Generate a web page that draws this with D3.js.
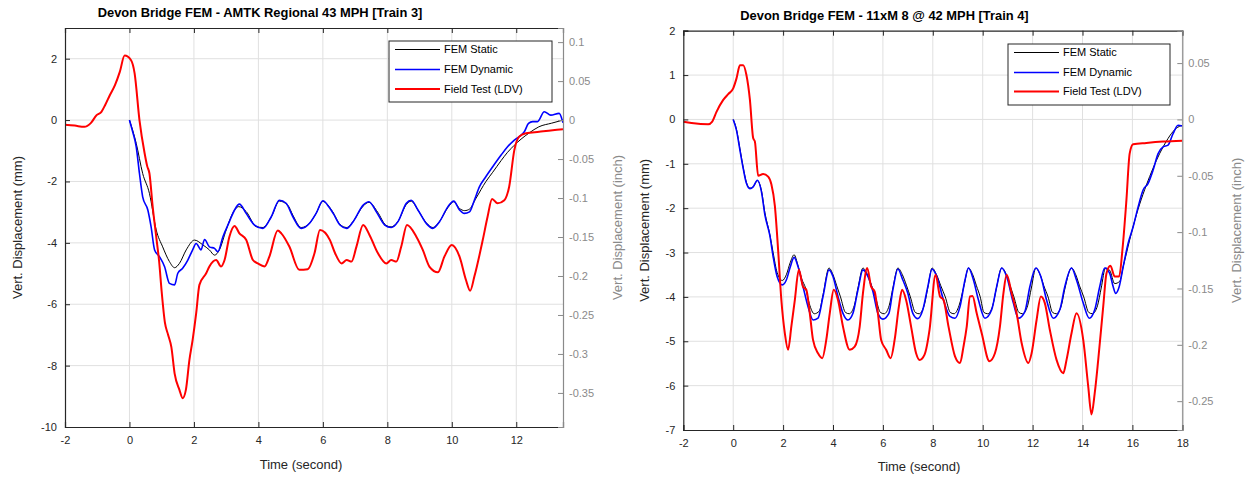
<!DOCTYPE html>
<html>
<head>
<meta charset="utf-8">
<script src="https://cdnjs.cloudflare.com/ajax/libs/d3/7.8.5/d3.min.js"></script>
<style>
  html, body { margin: 0; padding: 0; background: #fff; }
  svg { display: block; font-family: "Liberation Sans", Arial, sans-serif; }
</style>
</head>
<body>
<svg id="chart" width="1250" height="478"></svg>
<script>
// ---------------- DATA ----------------
// Chart 1: AMTK Regional 43 MPH [Train 3]
const t3Title = "Devon Bridge FEM - AMTK Regional 43 MPH [Train 3]";
const t3XTicks = [-2, 0, 2, 4, 6, 8, 10, 12];
const t3YTicksMM = [-10, -8, -6, -4, -2, 0, 2];
const t3YTicksIn = [-0.35, -0.3, -0.25, -0.2, -0.15, -0.1, -0.05, 0, 0.05, 0.1];
const t3XDomain = [-2, 13.45];
const t3YDomain = [-10, 3];

const t3FieldX = [-2.0,-1.7,-1.4,-1.2,-1.02,-0.87,-0.75,-0.61,-0.45,-0.3,-0.15,0.05,0.16,0.31,0.47,0.55,0.62,0.72,0.83,0.92,1.0,1.1,1.2,1.3,1.4,1.55,1.65,1.75,1.86,1.96,2.07,2.17,2.38,2.48,2.69,2.84,2.95,3.1,3.26,3.41,3.62,3.83,3.98,4.19,4.34,4.6,4.71,4.96,5.27,5.53,5.74,5.91,6.22,6.38,6.58,6.74,6.89,7.04,7.25,7.45,7.71,7.97,8.12,8.28,8.43,8.61,8.9,9.1,9.31,9.57,9.77,10.0,10.24,10.44,10.57,10.7,10.96,11.11,11.25,11.42,11.63,11.78,11.94,12.09,12.3,12.71,13.13,13.45];
const t3FieldY = [-0.15,-0.18,-0.22,-0.1,0.16,0.27,0.5,0.81,1.14,1.57,2.1,1.95,1.52,0,-1.08,-1.5,-1.74,-2.82,-3.8,-4.6,-5.6,-6.6,-7.0,-7.4,-8.25,-8.79,-9.06,-8.79,-7.81,-7.16,-6.29,-5.37,-4.99,-4.77,-4.56,-4.77,-4.56,-3.8,-3.45,-3.69,-3.9,-4.56,-4.67,-4.77,-4.45,-3.6,-3.69,-4.12,-4.88,-4.86,-4.34,-3.58,-3.91,-4.34,-4.67,-4.56,-4.61,-4.13,-3.42,-3.75,-4.34,-4.67,-4.56,-4.61,-4.13,-3.42,-3.8,-4.23,-4.78,-4.96,-4.45,-4.07,-4.45,-5.21,-5.56,-5.1,-3.91,-3.15,-2.57,-2.71,-2.61,-2.17,-0.98,-0.54,-0.43,-0.38,-0.33,-0.3];

const t3DynX = [0,0.1,0.21,0.31,0.41,0.57,0.67,0.78,0.93,1.09,1.24,1.4,1.5,1.65,1.81,1.96,2.07,2.22,2.33,2.48,2.64,2.74,2.9,3.1,3.26,3.41,3.62,3.88,4.14,4.4,4.65,4.86,5.07,5.33,5.58,5.79,6.0,6.2,6.32,6.53,6.74,6.94,7.25,7.43,7.66,7.92,8.12,8.33,8.59,8.74,8.95,9.21,9.41,9.62,9.88,10.06,10.24,10.39,10.55,10.7,10.86,11.06,11.27,11.53,11.73,11.94,12.15,12.25,12.38,12.51,12.66,12.87,13.07,13.33,13.45];
const t3DynY = [0,-0.38,-0.87,-1.74,-2.5,-2.93,-3.47,-4.23,-4.45,-4.78,-5.32,-5.37,-4.99,-4.83,-4.56,-4.23,-4.02,-4.23,-3.89,-4.13,-4.18,-4.29,-3.8,-3.31,-2.93,-2.74,-3.04,-3.42,-3.53,-3.15,-2.61,-2.71,-3.15,-3.53,-3.37,-3.04,-2.63,-2.85,-3.04,-3.42,-3.53,-3.31,-2.77,-2.66,-2.99,-3.42,-3.5,-3.31,-2.71,-2.61,-2.93,-3.37,-3.53,-3.31,-2.82,-2.64,-2.93,-3.04,-2.99,-2.61,-2.17,-1.84,-1.52,-1.14,-0.87,-0.65,-0.49,-0.38,-0.11,-0.05,-0.05,0.27,0.16,0.22,-0.09];

const t3StaticX = [0,0.21,0.41,0.62,0.83,1.03,1.24,1.4,1.55,1.76,2.02,2.28,2.48,2.64,2.79,3.0,3.2,3.39,3.62,3.93,4.14,4.4,4.65,4.91,5.07,5.33,5.58,5.79,6.0,6.3,6.53,6.74,6.94,7.25,7.43,7.7,7.95,8.12,8.33,8.59,8.74,8.95,9.21,9.41,9.62,9.88,10.06,10.24,10.4,10.55,10.75,11.06,11.27,11.53,11.73,11.94,12.15,12.4,12.7,13.1,13.45];
const t3StaticY = [0,-0.76,-1.74,-2.39,-3.58,-4.13,-4.61,-4.81,-4.67,-4.23,-3.91,-4.07,-4.23,-4.4,-4.23,-3.58,-3.04,-2.82,-2.98,-3.47,-3.5,-3.15,-2.64,-2.77,-3.1,-3.5,-3.37,-3.04,-2.65,-2.98,-3.4,-3.5,-3.3,-2.8,-2.68,-3.0,-3.42,-3.48,-3.3,-2.75,-2.64,-2.93,-3.35,-3.5,-3.3,-2.85,-2.66,-2.88,-2.95,-2.9,-2.55,-2.0,-1.7,-1.32,-1.05,-0.82,-0.62,-0.42,-0.22,-0.1,0];

// Chart 2: 11xM 8 @ 42 MPH [Train 4]
const t4Title = "Devon Bridge FEM - 11xM 8 @ 42 MPH [Train 4]";
const t4XTicks = [-2, 0, 2, 4, 6, 8, 10, 12, 14, 16, 18];
const t4YTicksMM = [-7, -6, -5, -4, -3, -2, -1, 0, 1, 2];
const t4YTicksIn = [-0.25, -0.2, -0.15, -0.1, -0.05, 0, 0.05];
const t4XDomain = [-2, 18];
const t4YDomain = [-7, 2];

const t4FieldX = [-2,-1.67,-1.0,-0.84,-0.67,-0.4,-0.2,0,0.13,0.27,0.4,0.53,0.67,0.8,0.87,1.0,1.2,1.4,1.53,1.67,1.8,1.93,2.07,2.2,2.33,2.47,2.63,2.8,2.93,3.07,3.2,3.4,3.57,3.73,3.87,4.03,4.2,4.4,4.67,4.87,5.07,5.2,5.37,5.53,5.67,5.8,5.93,6.13,6.31,6.47,6.64,6.77,6.93,7.13,7.33,7.47,7.67,7.87,8.11,8.29,8.43,8.63,8.89,9.09,9.23,9.36,9.49,9.59,9.76,9.96,10.27,10.49,10.69,10.83,10.96,11.16,11.36,11.56,11.83,11.96,12.16,12.33,12.49,12.69,12.96,13.23,13.36,13.56,13.76,14.03,14.23,14.36,14.49,14.63,14.83,14.96,15.12,15.29,15.47,15.6,15.76,15.89,16.03,16.56,17.23,18];
const t4FieldY = [-0.05,-0.08,-0.11,-0.05,0.17,0.44,0.57,0.7,0.92,1.22,1.22,1.0,0.44,-0.42,-0.5,-1.27,-1.23,-1.29,-1.46,-1.95,-2.94,-4.07,-4.82,-5.19,-4.67,-4.07,-3.39,-3.77,-3.84,-4.37,-4.97,-5.27,-5.38,-4.97,-4.37,-3.84,-4.07,-4.67,-5.19,-5.12,-4.67,-3.92,-3.35,-3.77,-3.88,-4.37,-4.97,-5.19,-5.38,-4.97,-4.22,-3.84,-4.07,-4.67,-5.27,-5.42,-5.3,-4.74,-3.5,-3.99,-4.07,-4.67,-5.34,-5.49,-5.12,-4.67,-3.99,-3.98,-4.37,-4.82,-5.45,-5.27,-4.67,-3.92,-3.5,-3.92,-4.37,-5.04,-5.49,-5.27,-4.52,-3.99,-4.14,-4.74,-5.42,-5.72,-5.42,-4.82,-4.37,-4.97,-6.02,-6.65,-6.17,-5.42,-4.22,-3.47,-3.3,-3.54,-3.54,-2.94,-1.82,-0.77,-0.56,-0.53,-0.5,-0.48];

const t4DynX = [0,0.13,0.27,0.4,0.53,0.67,0.8,0.97,1.13,1.27,1.47,1.6,1.76,1.97,2.13,2.29,2.44,2.6,2.8,3.0,3.2,3.4,3.6,3.84,4.0,4.2,4.4,4.6,4.8,5.0,5.2,5.4,5.6,5.8,6.0,6.24,6.4,6.6,6.8,7.0,7.2,7.4,7.6,7.8,7.97,8.16,8.43,8.69,8.89,9.09,9.29,9.43,9.63,9.83,10.09,10.36,10.56,10.76,10.96,11.23,11.43,11.69,11.89,12.13,12.33,12.56,12.83,13.09,13.29,13.56,13.76,14.03,14.27,14.49,14.69,14.89,15.09,15.23,15.33,15.47,15.63,15.83,16.03,16.23,16.43,16.63,16.83,17.03,17.23,17.43,17.63,17.83,18];
const t4DynY = [0,-0.24,-0.69,-1.1,-1.44,-1.56,-1.52,-1.37,-1.62,-2.15,-2.62,-3.09,-3.54,-3.73,-3.62,-3.32,-3.11,-3.32,-3.77,-4.22,-4.52,-4.48,-3.99,-3.39,-3.54,-3.99,-4.37,-4.52,-4.37,-3.84,-3.39,-3.54,-3.88,-4.37,-4.5,-4.37,-3.84,-3.37,-3.62,-3.92,-4.37,-4.49,-4.29,-3.77,-3.37,-3.54,-4.07,-4.44,-4.48,-4.22,-3.62,-3.35,-3.62,-4.07,-4.48,-4.29,-3.77,-3.35,-3.54,-4.14,-4.48,-4.33,-3.77,-3.35,-3.54,-4.07,-4.48,-4.29,-3.77,-3.35,-3.62,-4.14,-4.48,-4.29,-3.77,-3.35,-3.47,-3.77,-3.92,-3.77,-3.32,-2.79,-2.42,-1.97,-1.59,-1.44,-1.14,-0.77,-0.62,-0.58,-0.32,-0.13,-0.15];

const t4StaticX = [0,0.13,0.27,0.4,0.53,0.67,0.8,0.97,1.13,1.27,1.47,1.6,1.76,1.97,2.13,2.29,2.44,2.6,2.75,2.9,3.05,3.25,3.45,3.6,3.84,4.0,4.15,4.3,4.5,4.65,4.85,5.0,5.2,5.38,5.55,5.7,5.9,6.05,6.25,6.4,6.6,6.78,6.95,7.1,7.3,7.45,7.65,7.8,7.97,8.15,8.32,8.5,8.7,8.85,9.05,9.25,9.43,9.6,9.75,9.9,10.05,10.2,10.4,10.55,10.76,10.95,11.1,11.25,11.45,11.6,11.8,11.95,12.13,12.3,12.45,12.62,12.8,12.95,13.15,13.3,13.56,13.73,13.88,14.05,14.25,14.4,14.6,14.75,14.92,15.09,15.29,15.49,15.63,16.16,16.69,17.23,17.76,18];
const t4StaticY = [0,-0.22,-0.66,-1.08,-1.42,-1.55,-1.52,-1.38,-1.6,-2.1,-2.6,-3.0,-3.45,-3.63,-3.5,-3.22,-3.05,-3.3,-3.6,-3.8,-4.15,-4.38,-4.32,-3.95,-3.35,-3.5,-3.75,-4.0,-4.35,-4.38,-4.2,-3.8,-3.35,-3.5,-3.75,-4.0,-4.35,-4.38,-4.2,-3.8,-3.35,-3.5,-3.75,-4.0,-4.35,-4.38,-4.2,-3.8,-3.35,-3.5,-3.75,-4.0,-4.35,-4.38,-4.2,-3.75,-3.35,-3.5,-3.75,-4.0,-4.35,-4.38,-4.2,-3.8,-3.35,-3.5,-3.75,-4.0,-4.35,-4.38,-4.2,-3.8,-3.35,-3.5,-3.75,-4.0,-4.35,-4.38,-4.2,-3.8,-3.35,-3.5,-3.75,-4.0,-4.35,-4.38,-4.2,-3.8,-3.35,-3.4,-3.7,-3.65,-3.32,-2.15,-1.29,-0.62,-0.2,-0.13];

const legendLabels = ["FEM Static", "FEM Dynamic", "Field Test (LDV)"];
const seriesColors = ["#000000", "#0000ff", "#ff0000"];
const seriesWidths = [1, 1.6, 2];

// ---------------- DRAW ----------------
const svg = d3.select("#chart");
const zip = (xs, ys) => xs.map((x, i) => [x, ys[i]]);

function drawChart(o) {
  const g = svg.append("g");
  const x = d3.scaleLinear().domain(o.xDomain).range([o.left, o.right]);
  const y = d3.scaleLinear().domain(o.yDomain).range([o.bottom, o.top]);
  const y2 = d3.scaleLinear().domain(o.yDomain.map(v => v / 25.4)).range([o.bottom, o.top]);
  const dark = "#262626", grey = "#8a8a8a", grid = "#e0e0e0";

  // grid
  g.append("g").selectAll("line").data(o.xTicks.filter(t => t > o.xDomain[0])).join("line")
    .attr("x1", d => x(d)).attr("x2", d => x(d)).attr("y1", o.top).attr("y2", o.bottom)
    .attr("stroke", grid).attr("stroke-width", 1);
  g.append("g").selectAll("line").data(o.yTicks.filter(t => t > o.yDomain[0] && t < o.yDomain[1])).join("line")
    .attr("x1", o.left).attr("x2", o.right).attr("y1", d => y(d)).attr("y2", d => y(d))
    .attr("stroke", grid).attr("stroke-width", 1);

  // lines
  const clipId = "clip" + o.id;
  svg.append("clipPath").attr("id", clipId).append("rect")
    .attr("x", o.left).attr("y", o.top).attr("width", o.right - o.left).attr("height", o.bottom - o.top);
  const line = d3.line().x(d => x(d[0])).y(d => y(d[1])).curve(d3.curveMonotoneX);
  const lg = g.append("g").attr("clip-path", `url(#${clipId})`);
  o.series.forEach((s, i) => {
    lg.append("path").datum(s).attr("d", line).attr("fill", "none")
      .attr("stroke", seriesColors[i]).attr("stroke-width", seriesWidths[i])
      .attr("stroke-linejoin", "round");
  });

  // axes
  const ax = g.append("g").attr("transform", `translate(0,${o.bottom})`)
    .call(d3.axisBottom(x).tickValues(o.xTicks).tickSize(-5).tickPadding(9).tickFormat(d3.format("d")));
  const axTop = g.append("g").attr("transform", `translate(0,${o.top})`)
    .call(d3.axisTop(x).tickValues(o.xTicks).tickSize(-5).tickFormat(""));
  const ay = g.append("g").attr("transform", `translate(${o.left},0)`)
    .call(d3.axisLeft(y).tickValues(o.yTicks).tickSize(-5).tickPadding(8).tickFormat(d3.format("d")));
  const ay2 = g.append("g").attr("transform", `translate(${o.right},0)`)
    .call(d3.axisRight(y2).tickValues(o.yTicksIn).tickSize(-5).tickPadding(6).tickFormat(d => d === 0 ? "0" : String(+d.toFixed(2))));
  [ax, axTop, ay].forEach(a => {
    a.select(".domain").attr("stroke", dark).attr("stroke-width", 1.2);
    a.selectAll(".tick line").attr("stroke", dark);
    a.selectAll("text").attr("fill", dark).style("font-size", "11px").style("font-family", "Liberation Sans, Arial, sans-serif");
  });
  ay2.select(".domain").attr("stroke", grey).attr("stroke-width", 1.2);
  ay2.selectAll(".tick line").attr("stroke", grey);
  ay2.selectAll("text").attr("fill", grey).style("font-size", "11px").style("font-family", "Liberation Sans, Arial, sans-serif");
  ax.selectAll(".tick text").attr("dy", "0.71em");
  g.selectAll(".tick text").text(function() { return d3.select(this).text().replace("\u2212", "-"); });

  // titles / labels
  g.append("text").attr("x", o.titleX).attr("y", o.titleY).attr("text-anchor", "middle")
    .attr("font-weight", "bold").attr("font-size", "12.9px").attr("fill", "#000").text(o.title);
  g.append("text").attr("x", o.xLabelX).attr("y", o.xLabelY).attr("text-anchor", "middle")
    .attr("font-size", "13px").attr("fill", dark).text("Time (second)");
  g.append("text").attr("transform", `translate(${o.yLabelX},${(o.top + o.bottom) / 2}) rotate(-90)`)
    .attr("text-anchor", "middle").attr("font-size", "13px").attr("fill", dark).text("Vert. Displacement (mm)");
  g.append("text").attr("transform", `translate(${o.y2LabelX},${(o.top + o.bottom) / 2}) rotate(-90)`)
    .attr("text-anchor", "middle").attr("font-size", "13px").attr("fill", grey).text("Vert. Displacement (inch)");

  // legend
  const L = o.legend;
  const leg = g.append("g");
  leg.append("rect").attr("x", L.x).attr("y", L.y).attr("width", L.w).attr("height", L.h)
    .attr("fill", "#fff").attr("stroke", dark).attr("stroke-width", 1);
  legendLabels.forEach((lab, i) => {
    const yy = L.y + L.rowY[i];
    leg.append("line").attr("x1", L.x + 6).attr("x2", L.x + 51).attr("y1", yy).attr("y2", yy)
      .attr("stroke", seriesColors[i]).attr("stroke-width", seriesWidths[i]);
    leg.append("text").attr("x", L.x + 55).attr("y", yy).attr("dy", "0.35em")
      .attr("font-size", "11px").attr("fill", "#000").text(lab);
  });
}

drawChart({
  id: 1, left: 65, right: 563, top: 28, bottom: 427,
  xDomain: t3XDomain, yDomain: t3YDomain,
  xTicks: t3XTicks, yTicks: t3YTicksMM, yTicksIn: t3YTicksIn,
  series: [zip(t3StaticX, t3StaticY), zip(t3DynX, t3DynY), zip(t3FieldX, t3FieldY)],
  title: t3Title, titleX: 260, titleY: 17,
  xLabelX: 301, xLabelY: 469, yLabelX: 22, y2LabelX: 622,
  legend: { x: 389, y: 41, w: 163, h: 61, rowY: [8.5, 28.5, 48] }
});

drawChart({
  id: 2, left: 683.3, right: 1182.3, top: 30.7, bottom: 430,
  xDomain: t4XDomain, yDomain: t4YDomain,
  xTicks: t4XTicks, yTicks: t4YTicksMM, yTicksIn: t4YTicksIn,
  series: [zip(t4StaticX, t4StaticY), zip(t4DynX, t4DynY), zip(t4FieldX, t4FieldY)],
  title: t4Title, titleX: 884.5, titleY: 19.5,
  xLabelX: 919, xLabelY: 471, yLabelX: 649, y2LabelX: 1241,
  legend: { x: 1008, y: 44, w: 162, h: 61, rowY: [8.5, 28.5, 47.5] }
});
</script>
</body>
</html>
